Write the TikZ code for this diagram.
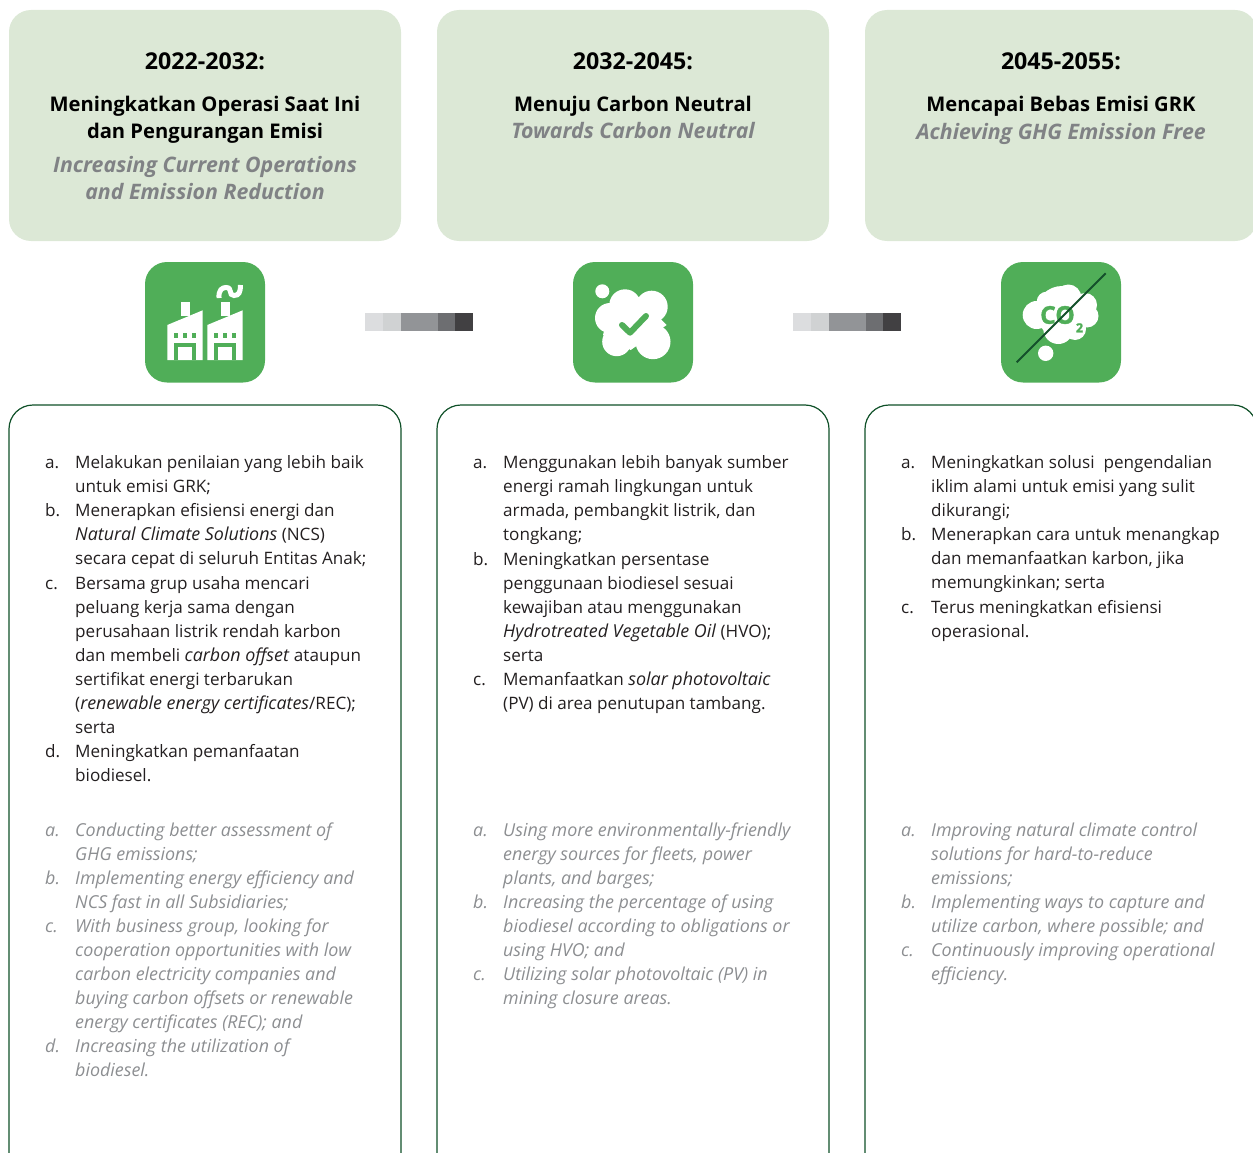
\documentclass[tikz,border=0pt]{standalone}
\usepackage{fontspec}
\setmainfont{Open Sans}[ItalicFeatures={Scale=1.045},BoldItalicFeatures={Scale=1.055}]
\newfontfamily\cofont{Open Sans}[BoldFeatures={FakeBold=1.5}]
\definecolor{headfill}{HTML}{DCE8D6}
\definecolor{iconfill}{HTML}{50AE58}
\definecolor{frame}{HTML}{0F5028}
\definecolor{slash}{HTML}{14502B}
\definecolor{subgrey}{HTML}{808285}
\definecolor{engrey}{HTML}{8C8E91}
\definecolor{ink}{HTML}{231F20}
\definecolor{barA}{HTML}{DCDDDF}
\definecolor{barB}{HTML}{D0D2D3}
\definecolor{barC}{HTML}{929497}
\definecolor{barD}{HTML}{6D6E71}
\definecolor{barE}{HTML}{414042}
\newcommand{\bodyfont}{\fontsize{17.1}{24}\selectfont}
\newcommand{\headfont}{\fontsize{20.2}{27}\selectfont\bfseries}
\newcommand{\yearfont}{\fontsize{23.2}{27}\selectfont\bfseries}
\newcommand{\firstline}{\rule{0pt}{18.8pt}}
\tikzset{
  headbox/.style={fill=headfill,rounded corners=22pt},
  listbox/.style={draw=frame,line width=1.2pt,rounded corners=24pt},
  iconbox/.style={fill=iconfill,rounded corners=22pt},
  yearline/.style={anchor=center,inner sep=0pt,align=center,text=black,font=\yearfont},
  title/.style={anchor=center,inner sep=0pt,align=center,text=black,font=\headfont},
  subtitle/.style={anchor=center,inner sep=0pt,align=center,text=subgrey,font=\headfont\itshape},
  itemtext/.style={anchor=north west,inner sep=0pt,align=left,font=\bodyfont},
  idtext/.style={itemtext,text=ink},
  entext/.style={itemtext,text=engrey,font=\bodyfont\itshape},
}
% name, x of label, line centre y, style, label, text
\newcommand{\itm}[6]{%
  \node[#4] (#1l) at (#2,#3-12) {\firstline#5};
  \node[#4] (#1t) at (#2+30,#3-12) {\firstline#6};
}
\newcommand{\barstrip}[1]{%
  \begin{scope}[xshift=#1pt]
    \fill[barA] (365,313) rectangle (383,331);
    \fill[barB] (383,313) rectangle (401,331);
    \fill[barC] (401,313) rectangle (438,331);
    \fill[barD] (438,313) rectangle (455,331);
    \fill[barE] (455,313) rectangle (473,331);
  \end{scope}}
\newcommand{\factory}[1]{%
  \begin{scope}[xshift=#1pt]
    \fill[white] (167.3,360) -- (167.3,325) -- (202.7,310.3) -- (202.7,360) -- cycle;
    \fill[white] (180.7,302) rectangle (189.7,316);
    \fill[iconfill] (174,343) rectangle (196,360);
    \fill[white] (177.7,347) rectangle (192.3,360);
    \fill[iconfill] (174.3,333.3) rectangle (178.3,338);
    \fill[iconfill] (183.3,333.3) rectangle (187.3,338);
    \fill[iconfill] (192,333.3) rectangle (196,338);
  \end{scope}}
\begin{document}
\begin{tikzpicture}[x=1pt,y=-1pt]
\useasboundingbox (0,0) rectangle (1253,1153);
\clip (0,0) rectangle (1253,1153);
% header boxes
\fill[headbox] (9,10) rectangle (401,241);
\fill[headbox] (437,10) rectangle (829,241);
\fill[headbox] (865,10) rectangle (1257,241);
% list boxes
\draw[listbox] (9,405) rectangle (401,1180);
\draw[listbox] (437,405) rectangle (829,1180);
\draw[listbox] (865,405) rectangle (1257,1180);
% headings
\node[yearline] (h1) at (205,61) {2022-2032:};
\node[title] (h1a) at (205,120) {Meningkatkan Operasi Saat Ini\\dan Pengurangan Emisi};
\node[subtitle] (h1b) at (205,178) {Increasing Current Operations\\and Emission Reduction};
\node[yearline] (h2) at (633,61) {2032-2045:};
\node[title] (h2a) at (633,106) {Menuju Carbon Neutral};
\node[subtitle] (h2b) at (633,131) {Towards Carbon Neutral};
\node[yearline] (h3) at (1061,61) {2045-2055:};
\node[title] (h3a) at (1061,106) {Mencapai Bebas Emisi GRK};
\node[subtitle] (h3b) at (1061,134) {Achieving GHG Emission Free};
% icons
\fill[iconbox] (145,262) rectangle (265,382.5);
\fill[iconbox] (573,262) rectangle (693,382.5);
\fill[iconbox] (1001,262) rectangle (1121,382.5);
% factory icon
\factory{0}
\factory{40}
\draw[white,line width=5pt] (219,298) .. controls (218.5,290) and (222,287.5) .. (226,287.5) .. controls (233,287.5) and (228,295.5) .. (234,295.5) .. controls (239,295.5) and (240.5,292) .. (240.5,285);
% cloud check icon
\fill[white] (602.3,291.3) circle (7);
\fill[white] (625,305) circle (15.7) (651.7,306.7) circle (16) (610,318) circle (15) (653,341.7) circle (17.5) (616.7,341.7) circle (14.5);
\fill[white] (636,295) -- (611.7,301.7) -- (603,335) -- (630.7,350) -- (666.7,325) -- cycle;
\draw[iconfill,line width=6pt,line cap=round,line join=round] (622,325) -- (630,332.7) -- (646,316);
% CO2 icon
\fill[white] (1045.7,353.3) circle (7.7);
\fill[white] (1036.7,315) circle (14) (1046.7,301.7) circle (10) (1068.3,297.5) circle (13) (1085,305) circle (12) (1087,316) circle (11.5) (1075,329) circle (11) (1058.3,329) circle (15) (1062,312) circle (26);
\node[inner sep=0pt,text=iconfill,font=\cofont\fontsize{24.5}{24.5}\selectfont\bfseries] (co) at (1057.5,315) {CO};
\node[inner sep=0pt,text=iconfill,font=\cofont\fontsize{12.5}{12.5}\selectfont\bfseries] (two) at (1079.5,327.8) {2};
\draw[slash,line width=2pt] (1016.7,362.3) -- (1105.7,273.3);
% separators
\barstrip{0}
\barstrip{428}
% column 1
\itm{a1}{45}{461}{idtext}{a.}{Melakukan penilaian yang lebih baik\\untuk emisi GRK;}
\itm{b1}{45}{509}{idtext}{b.}{Menerapkan efisiensi energi dan\\\textit{Natural Climate Solutions} (NCS)\\secara cepat di seluruh Entitas Anak;}
\itm{c1}{45}{582}{idtext}{c.}{Bersama grup usaha mencari\\peluang kerja sama dengan\\perusahaan listrik rendah karbon\\dan membeli \textit{carbon offset} ataupun\\sertifikat energi terbarukan\\(\textit{renewable energy certificates}/REC);\\serta}
\itm{d1}{45}{750}{idtext}{d.}{Meningkatkan pemanfaatan\\biodiesel.}
\itm{e1}{45}{829}{entext}{a.}{Conducting better assessment of\\GHG emissions;}
\itm{f1}{45}{877}{entext}{b.}{Implementing energy efficiency and\\NCS fast in all Subsidiaries;}
\itm{g1}{45}{925}{entext}{c.}{With business group, looking for\\cooperation opportunities with low\\carbon electricity companies and\\buying carbon offsets or renewable\\energy certificates (REC); and}
\itm{h1}{45}{1045}{entext}{d.}{Increasing the utilization of\\biodiesel.}
% column 2
\itm{a2}{473}{461}{idtext}{a.}{Menggunakan lebih banyak sumber\\energi ramah lingkungan untuk\\armada, pembangkit listrik, dan\\tongkang;}
\itm{b2}{473}{558}{idtext}{b.}{Meningkatkan persentase\\penggunaan biodiesel sesuai\\kewajiban atau menggunakan\\\textit{Hydrotreated Vegetable Oil} (HVO);\\serta}
\itm{c2}{473}{678}{idtext}{c.}{Memanfaatkan \textit{solar photovoltaic}\\(PV) di area penutupan tambang.}
\itm{e2}{473}{829}{entext}{a.}{Using more environmentally-friendly\\energy sources for fleets, power\\plants, and barges;}
\itm{f2}{473}{901}{entext}{b.}{Increasing the percentage of using\\biodiesel according to obligations or\\using HVO; and}
\itm{g2}{473}{973}{entext}{c.}{Utilizing solar photovoltaic (PV) in\\mining closure areas.}
% column 3
\itm{a3}{901}{461}{idtext}{a.}{Meningkatkan solusi\ \ pengendalian\\iklim alami untuk emisi yang sulit\\dikurangi;}
\itm{b3}{901}{533}{idtext}{b.}{Menerapkan cara untuk menangkap\\dan memanfaatkan karbon, jika\\memungkinkan; serta}
\itm{c3}{901}{606}{idtext}{c.}{Terus meningkatkan efisiensi\\operasional.}
\itm{e3}{901}{829}{entext}{a.}{Improving natural climate control\\solutions for hard-to-reduce\\emissions;}
\itm{f3}{901}{901}{entext}{b.}{Implementing ways to capture and\\utilize carbon, where possible; and}
\itm{g3}{901}{949}{entext}{c.}{Continuously improving operational\\efficiency.}
\end{tikzpicture}
\end{document}
